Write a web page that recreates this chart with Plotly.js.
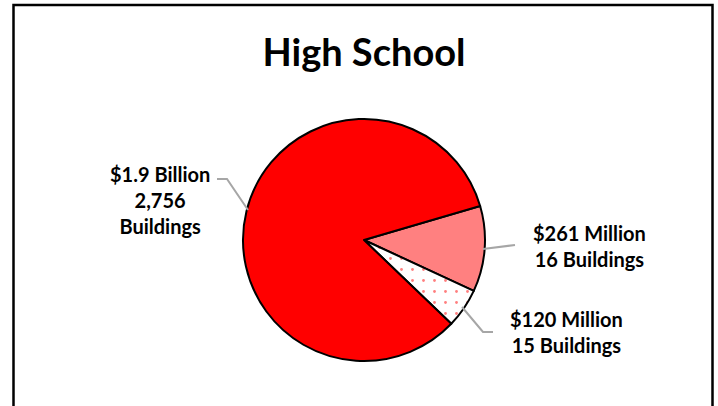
<!DOCTYPE html>
<html>
<head>
<meta charset="utf-8">
<script src="https://cdn.plot.ly/plotly-3.0.1.min.js"></script>
<style>html,body{margin:0;padding:0;background:#fff}#chart{width:718px;height:406px}</style>
</head>
<body>
<div id="chart"></div>
<script>
// Data
const categories = ["$261 Million", "$120 Million", "$1.9 Billion"];
const values = [261, 120, 1900];           // millions of dollars
const buildings = ["16", "15", "2,756"];
const labelText = [
  "$261 Million<br>16 Buildings",
  "$120 Million<br>15 Buildings",
  "$1.9 Billion<br>2,756<br>Buildings"
];
const sliceColors = ["#FF8080", "#FFFFFF", "#FF0000"];

const W = 718, H = 406;
const px = x => x / W, py = y => 1 - y / H;

const trace = {
  type: "pie",
  labels: categories,
  values: values,
  sort: false,
  direction: "clockwise",
  rotation: 73.7,
  textinfo: "none",
  hoverinfo: "label+value",
  showlegend: false,
  domain: {x: [px(243), px(485)], y: [py(361), py(119)]},
  marker: {
    colors: sliceColors,
    line: {color: "#000000", width: 2},
    pattern: {
      shape: ["", ".", ""],
      fgcolor: "#FF0000",
      bgcolor: ["#FF8080", "#FFFFFF", "#FF0000"],
      size: 11,
      solidity: 0.05,
      fillmode: "overlay"
    }
  }
};

const labelFont = {family: "Lato, 'Open Sans', sans-serif", size: 20, color: "#000"};
const ann = (t, x, y) => ({
  text: "<b>" + t + "</b>", x: px(x), y: py(y), xref: "paper", yref: "paper",
  showarrow: false, align: "center", xanchor: "center", yanchor: "middle", font: labelFont
});

const lineStyle = {color: "#A6A6A6", width: 2};
const path = pts => "M" + pts.map(p => px(p[0]) + "," + py(p[1])).join(" L");

const layout = {
  width: W, height: H,
  margin: {l: 0, r: 0, t: 0, b: 0},
  paper_bgcolor: "#FFFFFF",
  plot_bgcolor: "#FFFFFF",
  title: {
    text: "<b>High School</b>",
    x: px(364), xanchor: "center",
    y: py(53), yanchor: "middle",
    font: {family: "Lato, 'Open Sans', sans-serif", size: 38, color: "#000"}
  },
  annotations: [
    ann(labelText[2], 160, 200),
    ann(labelText[0], 589, 246),
    ann(labelText[1], 566, 332)
  ],
  shapes: [
    {type: "rect", xref: "paper", yref: "paper", x0: px(13.5), x1: px(712.5), y0: py(440), y1: py(5),
     line: {color: "#000", width: 2.5}, fillcolor: "rgba(0,0,0,0)", layer: "below"},
    {type: "path", xref: "paper", yref: "paper", path: path([[217, 179], [227, 179], [248, 210]]), line: lineStyle},
    {type: "path", xref: "paper", yref: "paper", path: path([[483, 249], [515, 245]]), line: lineStyle},
    {type: "path", xref: "paper", yref: "paper", path: path([[462, 307], [483, 332], [493, 332]]), line: lineStyle}
  ]
};

Plotly.newPlot("chart", [trace], layout, {displayModeBar: false, staticPlot: true});
</script>
</body>
</html>
